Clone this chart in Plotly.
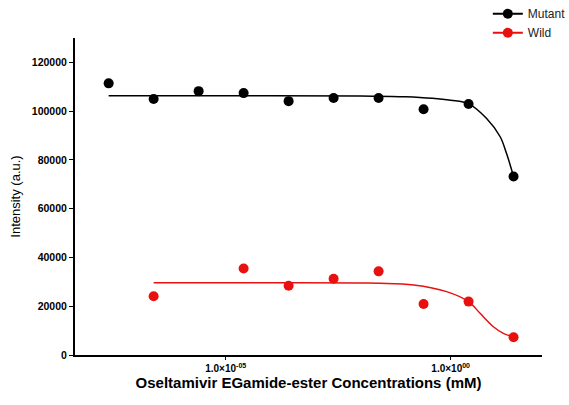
import plotly.graph_objects as go

# Concentrations (mM)
conc_mutant = [2.5e-8, 2.5e-7, 2.5e-6, 2.5e-5, 2.5e-4, 2.5e-3, 2.5e-2, 2.5e-1, 2.5, 25]
mutant = [111400, 105000, 108200, 107400, 104100, 105400, 105400, 100800, 102900, 73200]

conc_wild = [2.5e-7, 2.5e-5, 2.5e-4, 2.5e-3, 2.5e-2, 2.5e-1, 2.5, 25]
wild = [24100, 35500, 28400, 31300, 34300, 20900, 21900, 7300]

# Fitted curves
fit_mutant_x = [2.5e-8, 1e-4, 1e-2, 1e-1, 1.0, 2.5, 6.3, 12.6, 17.4, 25]
fit_mutant_y = [106300, 106300, 106200, 105900, 104500, 103000, 97000, 89500, 82700, 73200]

fit_wild_x = [2.5e-7, 1e-4, 1e-2, 0.027, 0.15, 0.81, 2.5, 4.5, 8.9, 14.8, 25]
fit_wild_y = [29600, 29600, 29500, 29400, 28700, 26000, 21900, 17100, 11600, 8900, 7500]

x_tickvals = [1e-5, 1.0]
x_ticktext = ["1.0×10<sup>-05</sup>", "1.0×10<sup>00</sup>"]
y_tickvals = [0, 20000, 40000, 60000, 80000, 100000, 120000]
y_ticktext = [str(v) for v in y_tickvals]

BLACK = "#000000"
RED = "#e8110f"

fig = go.Figure()
fig.add_trace(go.Scatter(x=fit_mutant_x, y=fit_mutant_y, mode="lines", line=dict(color=BLACK, width=1.5, shape="spline"), showlegend=False, hoverinfo="skip"))
fig.add_trace(go.Scatter(x=fit_wild_x, y=fit_wild_y, mode="lines", line=dict(color=RED, width=1.5, shape="spline"), showlegend=False, hoverinfo="skip"))
fig.add_trace(go.Scatter(x=conc_mutant, y=mutant, mode="markers", marker=dict(color=BLACK, size=10), showlegend=False))
fig.add_trace(go.Scatter(x=conc_wild, y=wild, mode="markers", marker=dict(color=RED, size=10), showlegend=False))
# legend entries
fig.add_trace(go.Scatter(x=[None], y=[None], mode="lines+markers", name="Mutant", line=dict(color=BLACK, width=2), marker=dict(color=BLACK, size=10)))
fig.add_trace(go.Scatter(x=[None], y=[None], mode="lines+markers", name="Wild", line=dict(color=RED, width=2), marker=dict(color=RED, size=10)))

fig.update_layout(
    width=569, height=405,
    margin=dict(l=75, r=27, t=38, b=50, autoexpand=False),
    paper_bgcolor="white", plot_bgcolor="white",
    font=dict(family="Liberation Sans, Arial, sans-serif", color="black"),
    legend=dict(x=0.884, y=1.1225, xanchor="left", yanchor="top", font=dict(size=12, color="#222"),
                bgcolor="rgba(0,0,0,0)", itemwidth=30, tracegroupgap=0),
    xaxis=dict(type="log", range=[-8.35, 2.03], tickvals=x_tickvals, ticktext=x_ticktext,
               showgrid=False, zeroline=False, showline=True, linecolor="black", linewidth=2,
               ticks="outside", ticklen=3, tickcolor="black",
               tickfont=dict(size=10, weight="bold"),
               title=dict(text="Oseltamivir EGamide-ester Concentrations (mM)", font=dict(size=15, weight="bold"), standoff=4)),
    yaxis=dict(range=[0, 130000], tickvals=y_tickvals, ticktext=y_ticktext, showgrid=False, zeroline=False,
               showline=True, linecolor="black", linewidth=2, ticks="outside", ticklen=4, tickcolor="black",
               tickfont=dict(size=10.5, weight="bold"),
               title=dict(text="Intensity (a.u.)", font=dict(size=13), standoff=8)),
)

fig.write_html("out.html")
